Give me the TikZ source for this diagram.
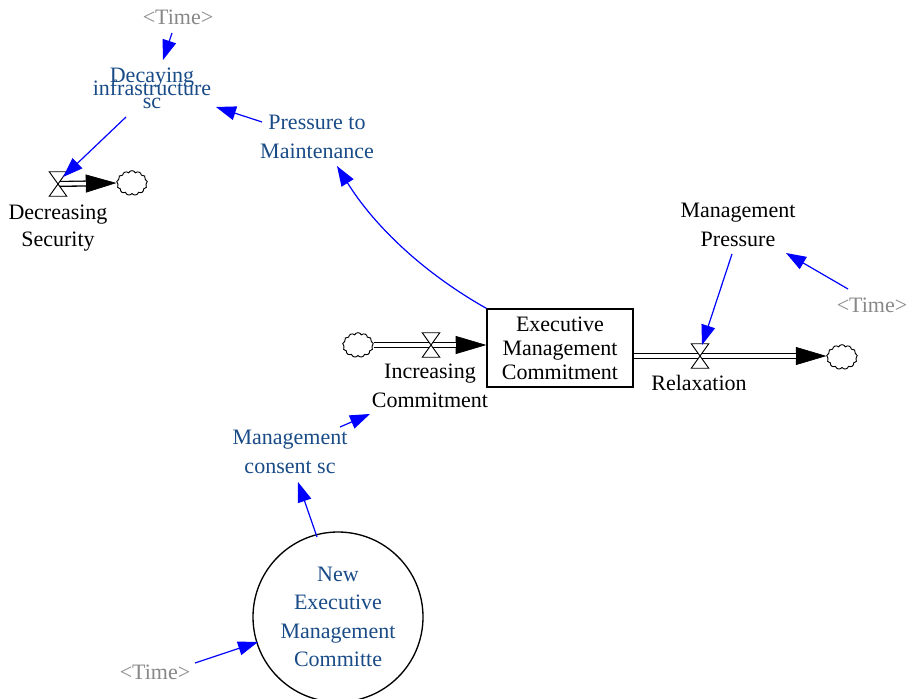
\documentclass[tikz,border=0pt]{standalone}
\usepackage{fontspec}
\setmainfont{Liberation Serif}
\usetikzlibrary{arrows.meta,shapes.symbols}
\definecolor{auxblue}{RGB}{25,75,135}
\definecolor{shadowgray}{RGB}{136,136,136}
\definecolor{linkblue}{RGB}{0,0,255}
% lets consecutive lines overlap when the baseline skip is smaller than the font
\newcommand{\squeezedlines}{\lineskiplimit=-1000pt\relax\lineskip=0pt\relax}

\begin{document}
\begin{tikzpicture}[x=0.75pt,y=-0.75pt,
  every node/.style={font=\fontsize{16.5}{21.4}\selectfont, inner sep=0pt, align=center},
  auxvar/.style={text=auxblue},
  shadowvar/.style={text=shadowgray},
  plain/.style={text=black},
  level/.style={draw, line width=1pt, fill=white, minimum width=109.5pt, minimum height=58.5pt,
    font=\fontsize{16.5}{18}\selectfont},
  ghost/.style={draw, line width=1pt, circle, minimum size=127.5pt},
  valvebox/.style={minimum width=12.75pt, minimum height=18pt},
  valveshape/.style={draw, fill=white, line width=0.7pt},
  sink/.style={cloud, cloud puffs=13, cloud puff arc=130, aspect=1.25, draw, fill=white,
    line width=0.7pt, minimum width=23pt, minimum height=18.5pt},
  pipe/.style={draw=black, line width=1pt, double=white, double distance=2.6pt},
  flowhead/.style={draw=black, line width=0.5pt, -{Triangle[length=23pt,width=13.5pt]}},
  link/.style={draw=linkblue, line width=0.9pt, -{Triangle[length=15pt,width=10.5pt]}}
]
\useasboundingbox (0,0) rectangle (917,699);

% stock, ghost variable and clouds
\node[level] (stock) at (560,348) {Executive\\Management\\Commitment};
\node[ghost, auxvar] (circ) at (338,617) {New\\Executive\\Management\\Committe};
\node[sink] (cd) at (132,183) {};
\node[sink] (ci) at (358,345) {};
\node[sink] (cr) at (842,357) {};

% valves (positions only, shapes drawn after the pipes)
\node[valvebox] (vd) at (58,184) {};
\node[valvebox] (vi) at (431,345) {};
\node[valvebox] (vr) at (700,356) {};

% text variables
\node[shadowvar] (ttop) at (178,17) {<Time>};
\node[auxvar, font={\fontsize{16.5}{9.75}\selectfont\squeezedlines}] (dec) at (152,88) {Decaying\\infrastructure\\sc};
\node[auxvar] (ptm) at (317,137) {Pressure to\\Maintenance};
\node[plain, font=\fontsize{16.5}{20.5}\selectfont] (ds) at (58,228) {Decreasing\\Security};
\node[plain] (mp) at (738,225) {Management\\Pressure};
\node[shadowvar] (tr) at (872,305) {<Time>};
\node[plain] (ic) at (430,386) {Increasing\\Commitment};
\node[plain] (rel) at (699,383) {Relaxation};
\node[auxvar] (mcs) at (290,452) {Management\\consent sc};
\node[shadowvar] (tb) at (155,672) {<Time>};

% flows
\draw[flowhead] (vd.center) -- (cd.west);
\draw[pipe, shorten >=23pt] (vd.center) -- (cd.west);
\draw[flowhead] (ci.east) -- (ci.east -| stock.west);
\draw[pipe, shorten >=23pt] (ci.east) -- (ci.east -| stock.west);
\draw[flowhead] (vr.center -| stock.east) -- (cr.west |- vr.center);
\draw[pipe, shorten >=23pt] (vr.center -| stock.east) -- (cr.west |- vr.center);

\foreach \v in {vd,vi,vr}
  \draw[valveshape] (\v.north west) -- (\v.north east) -- (\v.south west) -- (\v.south east) -- cycle;

% information links
\draw[link] ([shift={(-6,16)}]ttop.center) -- ([shift={(11,-28)}]dec.center);
\draw[link] ([shift={(-26,29)}]dec.center) -- ([shift={(5,-7)}]vd.center);
\draw[link] ([shift={(-55,-15)}]ptm.center) -- ([shift={(64,19)}]dec.center);
\draw[link] (stock.north west) .. controls +(-62,-35) and +(38,61) .. ([shift={(20,29)}]ptm.center);
\draw[link] ([shift={(-6,29)}]mp.center) -- ([shift={(2,-11)}]vr.center);
\draw[link] ([shift={(-24,-16)}]tr.center) -- ([shift={(48,28)}]mp.center);
\draw[link] ([shift={(50,-25)}]mcs.center) -- ([shift={(-60,28)}]ic.center);
\draw[link] ([shift={(-21,-80)}]circ.center) -- ([shift={(8,30)}]mcs.center);
\draw[link] ([shift={(40,-9)}]tb.center) -- ([shift={(-80,25)}]circ.center);
\end{tikzpicture}
\end{document}
